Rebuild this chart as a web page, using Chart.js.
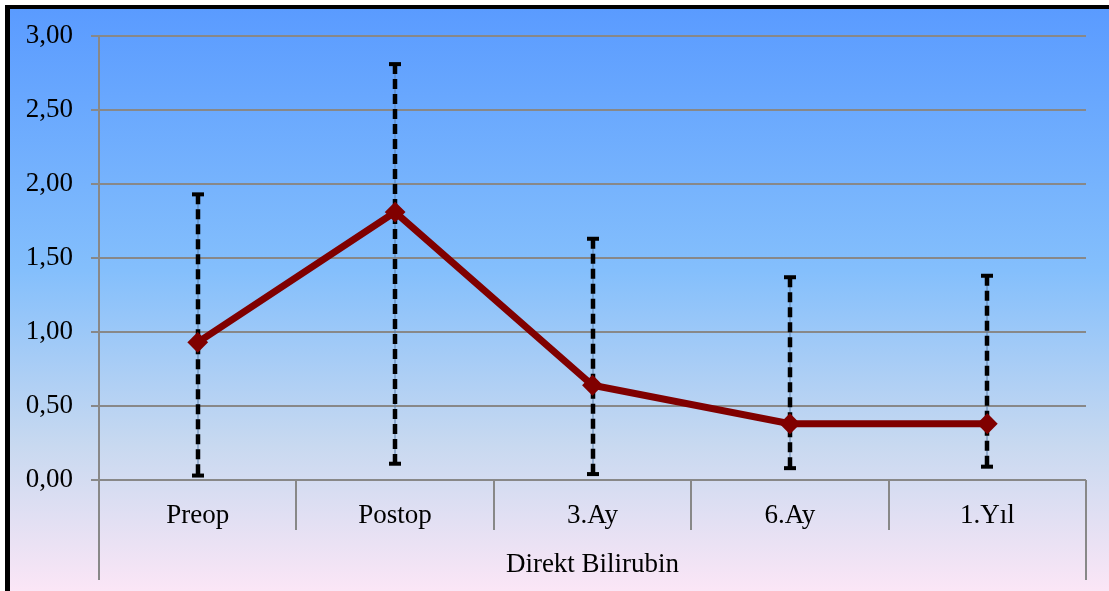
<!DOCTYPE html>
<html>
<head>
<meta charset="utf-8">
<script src="https://cdn.jsdelivr.net/npm/chart.js@4.4.1/dist/chart.umd.min.js"></script>
<style>
  html, body { margin: 0; padding: 0; background: #fff; }
  #wrap { position: relative; width: 1109px; height: 591px; }
</style>
</head>
<body>
<div id="wrap"><canvas id="grafik" width="1109" height="591"></canvas></div>
<script>
const kategoriler = ['Preop', 'Postop', '3.Ay', '6.Ay', '1.Yıl'];
const ortalama = [0.93, 1.81, 0.64, 0.38, 0.38];
const altSinir = [0.03, 0.11, 0.04, 0.08, 0.09];
const ustSinir = [1.93, 2.81, 1.63, 1.37, 1.38];
const eksenBaslik = 'Direkt Bilirubin';

const yaziTipi = "'Liberation Serif', 'DejaVu Serif', serif";

// arka plan + siyah çerçeve
const arkaPlan = {
    id: 'arkaPlan',
    beforeDraw(chart) {
        const ctx = chart.ctx;
        ctx.save();
        ctx.fillStyle = '#ffffff';
        ctx.fillRect(0, 0, chart.width, chart.height);
        const g = ctx.createLinearGradient(0, 9, 0, chart.height);
        g.addColorStop(0, '#5a9bff');
        g.addColorStop(0.45, '#84bffc');
        g.addColorStop(0.75, '#c8d9f0');
        g.addColorStop(1, '#fbe6f6');
        ctx.fillStyle = g;
        ctx.fillRect(10, 9, chart.width - 10, chart.height - 9);
        ctx.fillStyle = '#000';
        ctx.fillRect(5, 5, 5, chart.height - 5);
        ctx.fillRect(5, 5, chart.width - 5, 4);
        ctx.restore();
    }
};

// kategori kutuları
const kutular = {
    id: 'kutular',
    afterDraw(chart) {
        const ctx = chart.ctx;
        const alan = chart.chartArea;
        const n = kategoriler.length;
        const w = (alan.right - alan.left) / n;
        ctx.save();
        ctx.strokeStyle = '#888888';
        ctx.lineWidth = 2;
        for (let i = 0; i <= n; i++) {
            const px = Math.round(alan.left + w * i);
            const son = (i === 0 || i === n) ? alan.bottom + 100 : alan.bottom + 50;
            ctx.beginPath();
            ctx.moveTo(px, alan.bottom);
            ctx.lineTo(px, son);
            ctx.stroke();
        }
        ctx.restore();
    }
};

// hata çubukları
const hataCubuk = {
    id: 'hataCubuk',
    beforeDatasetsDraw(chart) {
        const ctx = chart.ctx;
        const x = chart.scales.x;
        const y = chart.scales.y;
        ctx.save();
        kategoriler.forEach((k, i) => {
            const px = Math.round(x.getPixelForValue(i));
            const y1 = y.getPixelForValue(ustSinir[i]);
            const y2 = y.getPixelForValue(altSinir[i]);
            ctx.strokeStyle = '#5d7fa6';
            ctx.lineWidth = 1;
            ctx.setLineDash([]);
            ctx.beginPath();
            ctx.moveTo(px, y1);
            ctx.lineTo(px, y2);
            ctx.stroke();
            ctx.strokeStyle = '#000';
            ctx.lineWidth = 4.5;
            ctx.setLineDash([10, 5]);
            ctx.beginPath();
            ctx.moveTo(px, y1);
            ctx.lineTo(px, y2);
            ctx.stroke();
            ctx.setLineDash([]);
            ctx.fillStyle = '#000';
            ctx.fillRect(px - 6, y1 - 2, 12, 4);
            ctx.fillRect(px - 6, y2 - 2, 12, 4);
        });
        ctx.restore();
    }
};

new Chart(document.getElementById('grafik').getContext('2d'), {
    type: 'line',
    data: {
        labels: kategoriler,
        datasets: [{
            data: ortalama,
            borderColor: '#800000',
            backgroundColor: '#800000',
            borderWidth: 7,
            pointStyle: 'rectRot',
            pointRadius: 9,
            pointBorderWidth: 2,
            fill: false,
            tension: 0
        }]
    },
    options: {
        responsive: false,
        animation: false,
        layout: { padding: { top: 36, right: 23, left: 0, bottom: 0 } },
        plugins: {
            legend: { display: false },
            tooltip: { enabled: false }
        },
        scales: {
            x: {
                offset: true,
                grid: { display: false },
                border: { display: false },
                ticks: {
                    color: '#000',
                    padding: 12,
                    font: { family: yaziTipi, size: 27 }
                },
                title: {
                    display: true,
                    text: eksenBaslik,
                    color: '#000',
                    padding: { top: 0, bottom: 10 },
                    font: { family: yaziTipi, size: 27 }
                },
                afterFit(s) { s.height = 111; }
            },
            y: {
                min: 0,
                max: 3,
                grid: { color: '#888888', lineWidth: 2, tickLength: 8 },
                border: { color: '#888888', width: 2 },
                ticks: {
                    stepSize: 0.5,
                    color: '#000',
                    padding: 18,
                    font: { family: yaziTipi, size: 27 },
                    callback: v => v.toFixed(2).replace('.', ',')
                },
                afterFit(s) { s.width = 99; }
            }
        }
    },
    plugins: [arkaPlan, kutular, hataCubuk]
});
</script>
</body>
</html>
